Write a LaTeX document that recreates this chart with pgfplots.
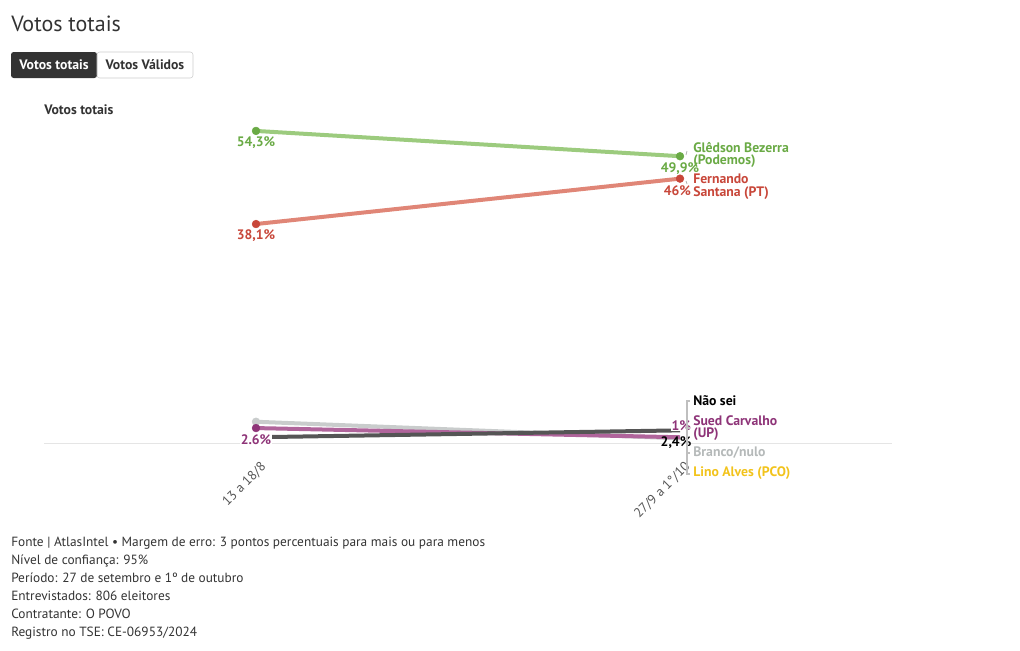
\documentclass[border=0pt]{standalone}
\usepackage{pgfplots}
\pgfplotsset{compat=1.18}
\usepackage{fontspec}
\setmainfont{PT Sans}

\definecolor{greenline}{HTML}{9CCB7E}
\definecolor{greendark}{HTML}{6AAA45}
\definecolor{redline}{HTML}{E08677}
\definecolor{reddark}{HTML}{C8473A}
\definecolor{purpleline}{HTML}{B0649B}
\definecolor{purpledark}{HTML}{8E3478}
\definecolor{grayline}{HTML}{C9CCCC}
\definecolor{graytext}{HTML}{B5B9B9}
\definecolor{darkline}{HTML}{555555}
\definecolor{yellowtext}{HTML}{F2C31B}
\definecolor{txt}{HTML}{333333}

\begin{document}
\begin{tikzpicture}[x=0.75pt,y=-0.75pt]
\path[use as bounding box] (0,0) rectangle (1020,650);

% header
\node[anchor=base west, inner sep=0, font=\fontsize{16.5pt}{18pt}\selectfont, text=txt] at (11,31) {Votos totais};
\fill[txt, rounded corners=2pt] (11,52) rectangle (97,78);
\draw[gray!40, rounded corners=2pt] (97,52) rectangle (193,78);
\node[font=\fontsize{10.3pt}{11pt}\selectfont\bfseries, text=white] at (54,65) {Votos totais};
\node[font=\fontsize{10.3pt}{11pt}\selectfont\bfseries, text=txt] at (145,65) {Votos Válidos};
\node[anchor=west, inner sep=0, font=\fontsize{10.3pt}{11pt}\selectfont\bfseries, text=txt] at (44,110) {Votos totais};

\begin{axis}[
  at={(33pt,-332.25pt)}, anchor=south west,
  width=636pt, height=242.25pt, scale only axis,
  xmin=-0.5, xmax=1.5, ymin=0, ymax=56.2,
  axis y line=none,
  axis x line*=bottom,
  x axis line style={draw=gray!20, line width=0.6pt, -},
  xtick={0,1}, xticklabels={13 a 18/8, 27/9 a 1°/10},
  major tick length=0pt,
  x tick label style={rotate=45, anchor=north east, font=\fontsize{10pt}{11pt}\selectfont, text=darkline, xshift=-4pt, yshift=-8pt},
  clip=false,
  every axis plot/.append style={line width=3pt},
  dot/.style={mark=*, mark size=2.9pt, mark options={solid, line width=0.4pt, fill=#1, draw=#1}},
]
% Branco/nulo
\addplot[grayline, dot=grayline, mark indices={1}] coordinates {(0,3.7) (1,0.8)};
% Sued Carvalho (UP)
\addplot[purpleline, dot=purpledark, mark indices={1}] coordinates {(0,2.6) (1,1.0)};
% Nao sei
\addplot[darkline] coordinates {(0,1.0) (1,2.2)};
% Gledson Bezerra
\addplot[greenline, dot=greendark] coordinates {(0,54.3) (1,49.9)};
% Fernando Santana
\addplot[redline, dot=reddark] coordinates {(0,38.1) (1,46)};

\tikzset{vl/.style={font=\fontsize{10.3pt}{11pt}\selectfont\bfseries, inner sep=0.6pt}}
\node[vl, text=greendark, fill=white] at (axis cs:0,54.3) [yshift=-9pt] {54,3\%};
\node[vl, text=reddark, fill=white] at (axis cs:0,38.1) [yshift=-9pt] {38,1\%};
\node[vl, text=purpledark, fill=white] at (axis cs:0,2.6) [yshift=-9pt] {2.6\%};
\node[vl, text=greendark, fill=white] at (axis cs:1,49.9) [yshift=-9pt] {49,9\%};
\node[vl, text=reddark, fill=white, anchor=east] at (axis cs:1,46) [xshift=9pt, yshift=-9pt] {46\%};
\node[vl, text=purpledark, fill=white] at (axis cs:1,2.2) [xshift=1pt, yshift=3.5pt] {1\%};
\node[vl, text=black] at (axis cs:1,0) [xshift=-3pt, yshift=0pt] {2,4\%};
\end{axis}

% right-hand labels
\tikzset{rl/.style={anchor=west, inner sep=0, align=left, font=\fontsize{10.3pt}{9.5pt}\selectfont\bfseries}}
\node[rl, text=greendark] at (693,155) {Glêdson Bezerra\\(Podemos)};
\node[rl, text=reddark] at (693,187) {Fernando\\Santana (PT)};
\draw[gray!60, line width=0.6pt] (686,155) -- (687,151);
\draw[gray!60, line width=0.6pt] (686,181) -- (687,184);
\draw[gray!50, line width=0.8pt] (690,401) -- (687,401) -- (687,474) -- (690,474);
\draw[gray!50, line width=0.8pt] (687,428) -- (690,428);
\draw[gray!50, line width=0.8pt] (687,453) -- (690,453);
\node[rl, text=black] at (693,401) {Não sei};
\node[rl, text=purpledark] at (693,428) {Sued Carvalho\\(UP)};
\node[rl, text=graytext] at (693,453) {Branco/nulo};
\node[rl, text=yellowtext] at (693,473) {Lino Alves (PCO)};

% footer
\foreach \t [count=\i] in {{Fonte | AtlasIntel • Margem de erro: 3 pontos percentuais para mais ou para menos},
  {Nível de confiança: 95\%},
  {Período: 27 de setembro e 1º de outubro},
  {Entrevistados: 806 eleitores},
  {Contratante: O POVO},
  {Registro no TSE: CE-06953/2024}}
  \node[anchor=base west, inner sep=0, font=\fontsize{10pt}{11pt}\selectfont, text=txt] at (11,528+18*\i) {\t};
\end{tikzpicture}
\end{document}
